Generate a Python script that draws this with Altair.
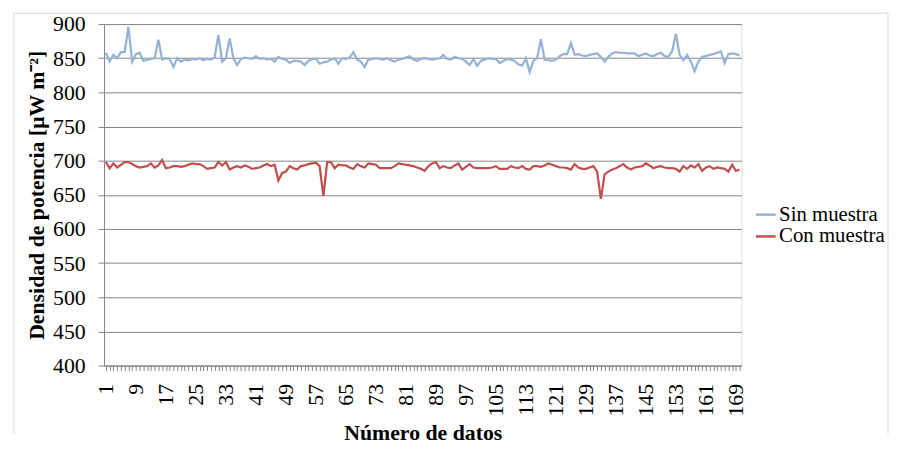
import altair as alt
import pandas as pd

# Data (170 data points per series)
indices = list(range(1, 171))

sin_muestra = [
    858, 845, 855, 850, 859, 859, 896, 845, 856, 858,
    846, 848, 849, 850, 877, 848, 850, 849, 837, 850,
    845, 848, 847, 849, 848, 850, 847, 849, 848, 851,
    884, 845, 850, 879, 850, 840, 849, 851, 850, 849,
    853, 849, 850, 848, 849, 845, 852, 849, 848, 843,
    846, 846, 845, 840, 846, 849, 849, 842, 844, 845,
    848, 850, 842, 850, 849, 851, 859, 848, 845, 837,
    848, 849, 850, 849, 848, 850, 847, 845, 848, 849,
    851, 853, 848, 846, 849, 850, 849, 848, 849, 850,
    855, 849, 848, 852, 850, 849, 845, 840, 849, 839,
    846, 848, 850, 849, 849, 843, 846, 849, 848, 846,
    841, 839, 850, 830, 846, 850, 878, 848, 847, 846,
    848, 853, 856, 856, 872, 855, 856, 854, 853, 855,
    856, 857, 852, 845, 852, 857, 859, 858, 858, 857,
    857, 857, 853, 855, 857, 854, 853, 856, 858, 853,
    852, 860, 886, 855, 847, 855, 845, 831, 845, 852,
    853, 855, 856, 858, 860, 843, 856, 857, 856, 854,
]

con_muestra = [
    698, 689, 696, 690, 694, 698, 698, 695, 692, 690,
    691, 692, 696, 690, 693, 701, 689, 690, 692, 692,
    691, 692, 694, 696, 695, 695, 692, 688, 689, 690,
    698, 693, 698, 687, 690, 692, 690, 693, 691, 688,
    689, 690, 693, 695, 692, 694, 671, 682, 684, 692,
    689, 687, 692, 693, 695, 696, 697, 692, 648, 698,
    698, 689, 694, 693, 693, 690, 688, 695, 692, 690,
    696, 695, 694, 689, 689, 689, 689, 692, 696, 695,
    694, 693, 692, 690, 688, 685, 692, 696, 698, 689,
    692, 690, 689, 693, 696, 687, 691, 695, 690, 689,
    689, 689, 689, 690, 692, 688, 688, 688, 692, 690,
    689, 692, 688, 687, 692, 692, 691, 693, 696, 694,
    692, 690, 690, 689, 687, 695, 690, 688, 688, 690,
    692, 684, 644, 680, 684, 687, 689, 692, 695, 690,
    687, 690, 691, 692, 696, 693, 689, 691, 692, 690,
    689, 689, 688, 684, 692, 688, 693, 690, 695, 685,
    690, 692, 688, 690, 689, 688, 684, 694, 685, 687,
]

series_names = ["Sin muestra", "Con muestra"]
series_colors = ["#95B3D7", "#C0504D"]
y_ticks = list(range(400, 901, 50))

df = pd.concat([
    pd.DataFrame({"i": indices, "valor": sin_muestra, "serie": series_names[0]}),
    pd.DataFrame({"i": indices, "valor": con_muestra, "serie": series_names[1]}),
])

FONT = "Liberation Serif"
GRID = "#868686"

lines = alt.Chart(df).mark_line(strokeWidth=2.25).encode(
    x=alt.X(
        "i:Q",
        scale=alt.Scale(domain=[0.5, 170.5], nice=False, zero=False),
        axis=alt.Axis(
            values=indices,
            labelExpr="(datum.value - 1) % 8 == 0 ? datum.value : ''",
            labelAngle=-90,
            labelOverlap=False,
            labelPadding=13,
            labelFont=FONT,
            labelFontSize=22,
            labelColor="#000000",
            grid=False,
            tickSize=5,
            tickColor=GRID,
            domainColor=GRID,
            title="Número de datos",
            titleFont=FONT,
            titleFontSize=22,
            titleFontWeight="bold",
            titleColor="#000000",
            titlePadding=7,
        ),
    ),
    y=alt.Y(
        "valor:Q",
        scale=alt.Scale(domain=[400, 900], nice=False, zero=False),
        axis=alt.Axis(
            values=y_ticks,
            labelFont=FONT,
            labelFontSize=22,
            labelColor="#000000",
            labelPadding=13,
            grid=True,
            gridColor=GRID,
            gridWidth=1,
            tickSize=6,
            tickColor=GRID,
            domainColor=GRID,
            title="Densidad de potencia [μW m⁻²]",
            titleFont=FONT,
            titleFontSize=22,
            titleFontWeight="bold",
            titleColor="#000000",
            titlePadding=4,
        ),
    ),
    color=alt.Color(
        "serie:N",
        scale=alt.Scale(domain=series_names, range=series_colors),
        legend=alt.Legend(
            orient="none",
            legendX=657,
            legendY=181,
            title=None,
            symbolType="stroke",
            symbolSize=400,
            symbolStrokeWidth=2.5,
            labelFont=FONT,
            labelFontSize=21,
            labelColor="#000000",
            labelOffset=2,
            padding=0,
            rowPadding=-3,
        ),
    ),
)

frame_data = alt.Data(values=[{"k": 0}])
frame_left = alt.Chart(frame_data).mark_rule(color="#D9D9D9").encode(
    x=alt.value(-91), y=alt.value(-11), y2=alt.value(414)
)
frame_top = alt.Chart(frame_data).mark_rule(color="#D9D9D9").encode(
    x=alt.value(-91), x2=alt.value(792), y=alt.value(-11)
)
frame_right = alt.Chart(frame_data).mark_rule(color="#D9D9D9").encode(
    x=alt.value(792), y=alt.value(-11), y2=alt.value(414)
)

chart = alt.layer(frame_left, frame_top, frame_right, lines).properties(
    width=644,
    height=345,
    padding={"left": 5, "top": 2, "right": 0, "bottom": 0},
).configure_view(stroke=None).configure(background="white")

chart.save("out.html", embed_options={"renderer": "svg", "actions": False})
